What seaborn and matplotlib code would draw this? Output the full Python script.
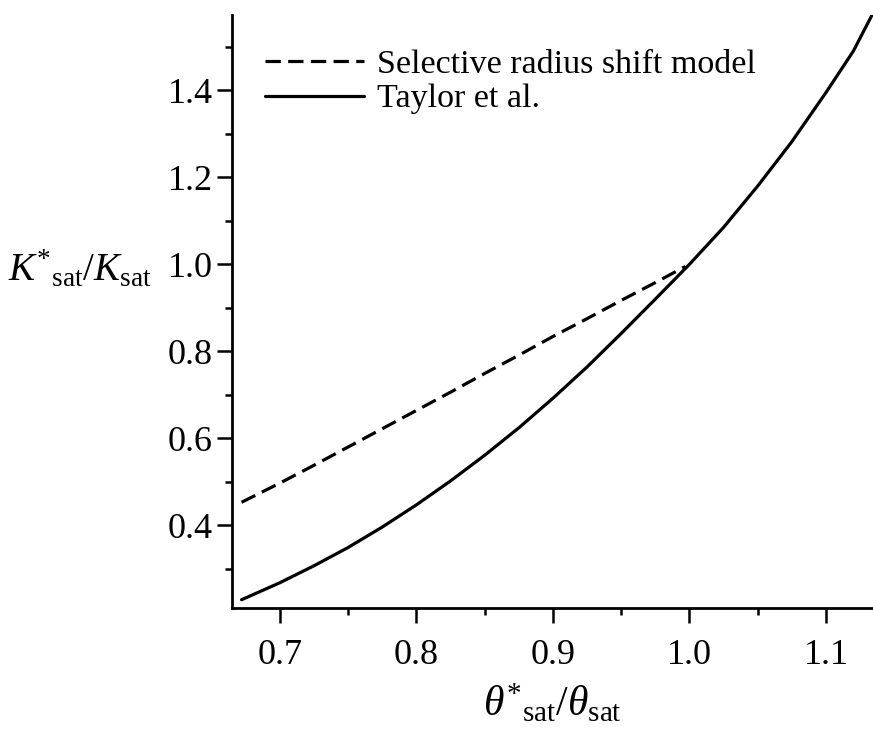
import numpy as np
import pandas as pd
import matplotlib
matplotlib.use("Agg")
import matplotlib.pyplot as plt
import seaborn as sns

# ---------------- data ----------------
theta_ratio_srs = [0.672, 0.70, 0.725, 0.75, 0.775, 0.80, 0.825, 0.85, 0.875,
                   0.90, 0.925, 0.95, 0.975, 0.997]
k_ratio_srs = [0.453, 0.497, 0.538, 0.580, 0.622, 0.664, 0.706, 0.749, 0.791,
               0.834, 0.875, 0.917, 0.958, 0.995]

theta_ratio_taylor = [0.672, 0.70, 0.725, 0.75, 0.775, 0.80, 0.825, 0.85, 0.875,
                      0.90, 0.925, 0.95, 0.975, 1.00, 1.025, 1.05, 1.075, 1.10,
                      1.12, 1.134]
k_ratio_taylor = [0.229, 0.268, 0.307, 0.349, 0.396, 0.447, 0.502, 0.561, 0.624,
                  0.692, 0.764, 0.841, 0.920, 1.00, 1.085, 1.180, 1.282, 1.395,
                  1.49, 1.575]

labels = ["Selective radius shift model", "Taylor et al."]

# ---------------- style ----------------
sns.set_theme(style="ticks")
plt.rcParams["font.family"] = ["Liberation Serif", "DejaVu Serif"]
plt.rcParams["mathtext.fontset"] = "custom"
plt.rcParams["mathtext.rm"] = "Liberation Serif"
plt.rcParams["mathtext.it"] = "Liberation Serif:italic"

fig = plt.figure(figsize=(8.73, 7.40), dpi=100)
ax = fig.add_axes([232 / 873, 1 - 608 / 740, 1 - 232 / 873, (608 - 15) / 740])

srs = pd.DataFrame({"x": theta_ratio_srs, "y": k_ratio_srs})
tay = pd.DataFrame({"x": theta_ratio_taylor, "y": k_ratio_taylor})

sns.lineplot(data=srs, x="x", y="y", ax=ax, color="black", lw=2.3,
             linestyle="--", label=labels[0])
sns.lineplot(data=tay, x="x", y="y", ax=ax, color="black", lw=2.3,
             label=labels[1])
ax.lines[0].set_dashes((4.8, 2.3))

ax.set_xlim(0.665, 1.1344)
ax.set_ylim(0.210, 1.573)

ax.set_xticks([0.7, 0.8, 0.9, 1.0, 1.1])
ax.set_xticklabels(["0.7", "0.8", "0.9", "1.0", "1.1"])
ax.set_xticks([0.75, 0.85, 0.95, 1.05], minor=True)
ax.set_yticks([0.4, 0.6, 0.8, 1.0, 1.2, 1.4])
ax.set_yticklabels(["0.4", "0.6", "0.8", "1.0", "1.2", "1.4"])
ax.set_yticks([0.3, 0.5, 0.7, 0.9, 1.1, 1.3, 1.5], minor=True)

ax.tick_params(which="major", length=11, width=1.8, labelsize=26, color="black",
               labelcolor="black", direction="out")
ax.tick_params(axis="x", which="major", pad=11)
ax.tick_params(axis="y", which="major", pad=3)
ax.tick_params(which="minor", length=5, width=1.8, color="black", direction="out")

sns.despine(ax=ax, top=True, right=True)
for side in ["left", "bottom"]:
    ax.spines[side].set_linewidth(2.0)
    ax.spines[side].set_color("black")

ax.set_xlabel(r"$\theta^{*}{}_{\mathrm{sat}}/\theta_{\mathrm{sat}}$", fontsize=30,
              color="black", labelpad=8)
ax.set_ylabel(r"$K^{*}{}_{\mathrm{sat}}/K_{\mathrm{sat}}$", fontsize=28,
              color="black", rotation=0, ha="right", va="center")
ax.yaxis.set_label_coords(-0.125, 0.57)

leg = ax.legend(loc="upper left", bbox_to_anchor=(0.0515, 0.942), frameon=False,
                fontsize=24.5, handlelength=2.9, handletextpad=0.4,
                borderpad=0, borderaxespad=0, labelspacing=0.1)
for t in leg.get_texts():
    t.set_color("black")

fig.savefig("out.png", dpi=100)
